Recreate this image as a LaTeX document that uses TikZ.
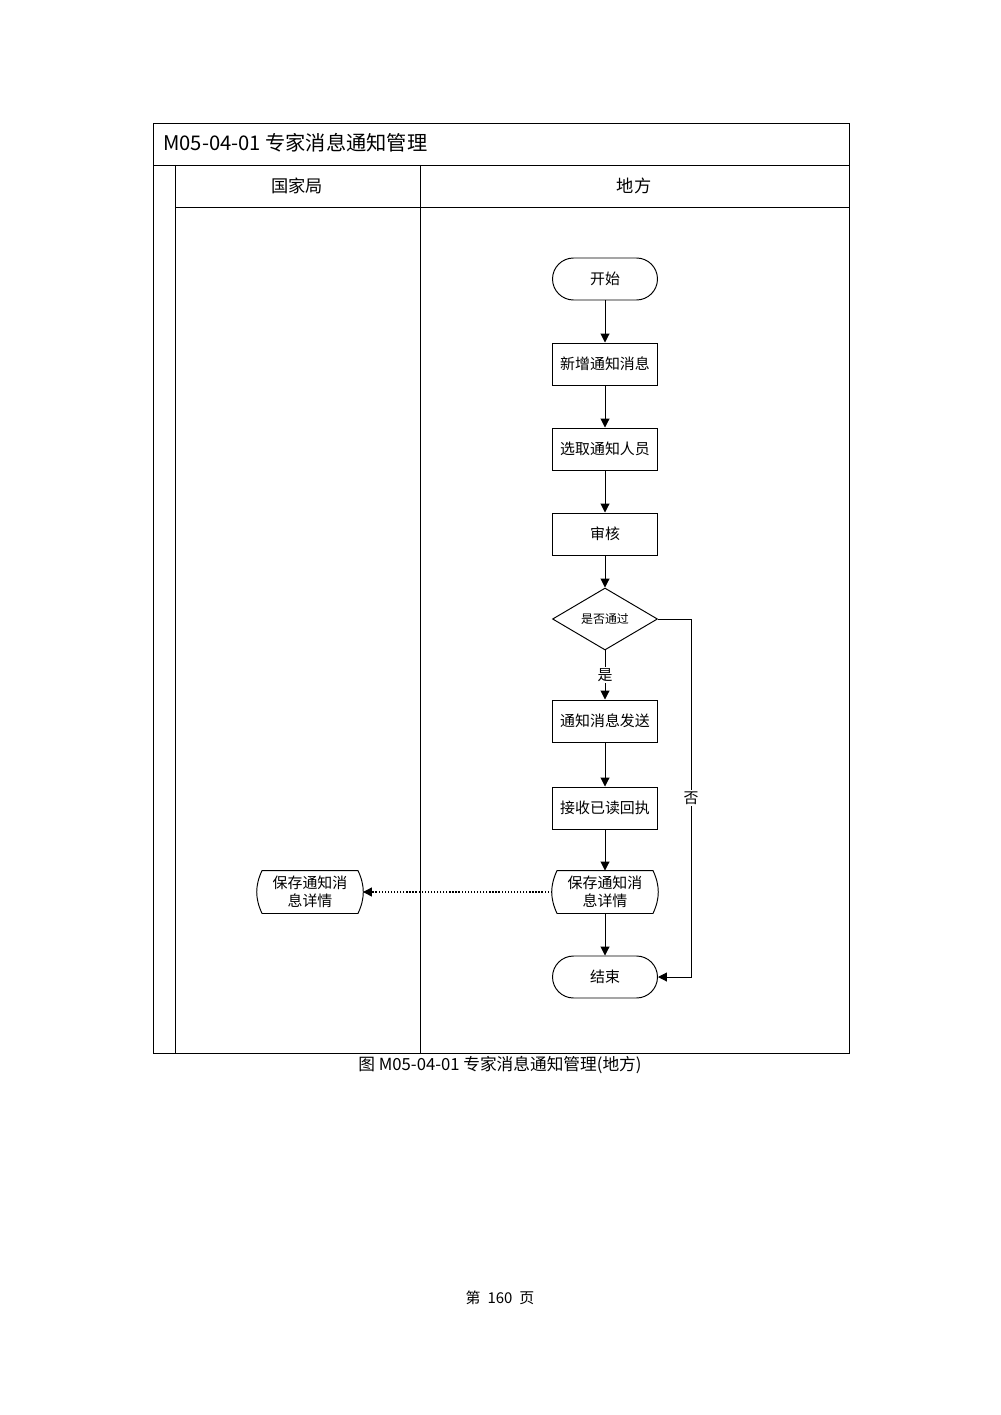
\documentclass[tikz,border=0pt]{standalone}
\usepackage{fontspec}
\newfontfamily\cjk{Noto Sans CJK SC}
\usetikzlibrary{arrows.meta,positioning,shapes.geometric}

\begin{document}
\begin{tikzpicture}[x=0.02cm, y=-0.02cm, line width=0.55pt,
  every node/.style={font=\cjk\fontsize{8.5}{10.5}\selectfont},
  flowbox/.style={draw, rectangle, minimum width=2.1cm, minimum height=0.84cm, inner sep=0pt},
  termbox/.style={flowbox, rounded corners=0.42cm},
  docbox/.style={minimum width=2.1cm, minimum height=0.84cm, inner sep=0pt, align=center,
                 font=\cjk\fontsize{8.5}{10}\selectfont},
  checkbox/.style={draw, diamond, aspect=1.7, minimum width=2.1cm, minimum height=1.24cm,
                   inner sep=0pt, font=\cjk\fontsize{6.8}{8}\selectfont},
  arr/.style={-{Triangle[length=5pt,width=5pt]}}]
  \useasboundingbox (0,0) rectangle (1000,1415);

  % swimlane frame
  \draw (153,123) rectangle (849,1053);
  \draw (153,165) -- (849,165);
  \draw (175,207) -- (849,207);
  \draw (175,165) -- (175,1053);
  \draw (420,165) -- (420,1053);
  \node[anchor=west, font=\cjk\fontsize{11.5}{14}\selectfont] (title) at (157,143)
    {M05-04-01 专家消息通知管理};
  \node[font=\cjk\fontsize{9.8}{12}\selectfont] (lanegj) at (297,186) {国家局};
  \node[font=\cjk\fontsize{9.8}{12}\selectfont] (lanedf) at (634,186) {地方};

  % flow
  \node[termbox] (start) at (605,279) {开始};
  \node[flowbox] (addmsg) at (605,364) {新增通知消息};
  \node[flowbox] (pick) at (605,449) {选取通知人员};
  \node[flowbox] (audit) at (605,534) {审核};
  \node[checkbox] (pass) at (605,619) {是否通过};
  \node[flowbox] (send) at (605,721) {通知消息发送};
  \node[flowbox] (receipt) at (605,808) {接收已读回执};
  \node[docbox] (saver) at (605,892) {保存通知消\\息详情};
  \node[docbox] (savel) at (310,892) {保存通知消\\息详情};
  \node[termbox] (end) at (605,977) {结束};
  \coordinate (nocorner) at (691,977);

  \foreach \d in {saver,savel}
    \draw ([xshift=0.1cm]\d.north west) to[bend right=25] ([xshift=0.1cm]\d.south west)
      -- ([xshift=-0.1cm]\d.south east) to[bend right=25] ([xshift=-0.1cm]\d.north east) -- cycle;

  \draw[arr] (start) -- (addmsg);
  \draw[arr] (addmsg) -- (pick);
  \draw[arr] (pick) -- (audit);
  \draw[arr] (audit) -- (pass);
  \draw[arr] (pass) -- node[fill=white, inner sep=1pt] {是} (send);
  \draw[arr] (send) -- (receipt);
  \draw[arr] (receipt) -- (saver);
  \draw[arr] (saver) -- (end);
  \draw[arr] (pass.east) -| node[pos=0.75, fill=white, inner sep=1pt] {否} (nocorner) -- (end.east);
  \draw[arr, line width=0.75pt, densely dotted] (saver.west) -- (savel.east);

  % caption and page number
  \node[font=\cjk\fontsize{9.5}{12}\selectfont] (caption) at (500,1065)
    {图 M05-04-01 专家消息通知管理(地方)};
  \node[font=\cjk\fontsize{8.5}{10}\selectfont] (pageno) at (500,1298)
    {第\hspace{4pt}160\hspace{4pt}页};
\end{tikzpicture}
\end{document}
